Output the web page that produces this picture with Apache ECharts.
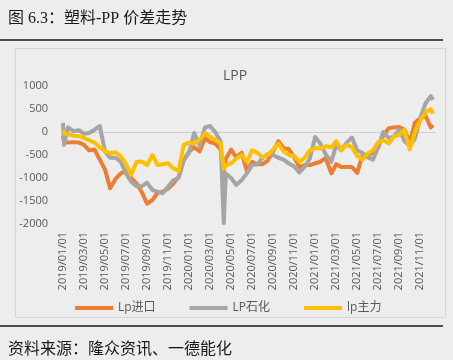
<!DOCTYPE html>
<html>
<head>
<meta charset="utf-8">
<script src="https://cdn.jsdelivr.net/npm/echarts@6/dist/echarts.min.js"></script>
<style>
html,body{margin:0;padding:0;background:#eeeded;}
#c{width:453px;height:360px;}
</style>
</head>
<body>
<div id="c"></div>
<script>
const dates = ['2019-01-01','2019-01-04','2019-01-16','2019-02-01','2019-02-16','2019-03-01','2019-03-16','2019-04-01','2019-04-16','2019-05-01','2019-05-16','2019-06-01','2019-06-16','2019-07-01','2019-07-16','2019-08-01','2019-08-16','2019-09-01','2019-09-16','2019-10-01','2019-10-16','2019-11-01','2019-11-16','2019-12-01','2019-12-16','2020-01-01','2020-01-16','2020-02-01','2020-02-16','2020-03-01','2020-03-16','2020-04-01','2020-04-10','2020-04-16','2020-05-01','2020-05-16','2020-06-01','2020-06-16','2020-07-01','2020-07-16','2020-08-01','2020-08-16','2020-09-01','2020-09-16','2020-10-01','2020-10-16','2020-11-01','2020-11-16','2020-12-01','2020-12-16','2021-01-01','2021-01-16','2021-02-01','2021-02-16','2021-03-01','2021-03-16','2021-04-01','2021-04-16','2021-05-01','2021-05-16','2021-06-01','2021-06-16','2021-07-01','2021-07-16','2021-08-01','2021-08-16','2021-09-01','2021-09-16','2021-10-01','2021-10-16','2021-11-01','2021-11-16','2021-12-01','2021-12-08'];
const lpImport = [-80,-200,-230,-220,-230,-280,-400,-380,-600,-820,-1220,-1020,-900,-850,-1000,-1120,-1300,-1560,-1480,-1320,-1300,-1230,-1120,-980,-620,-430,-330,-420,-130,-220,-250,-380,-850,-580,-380,-550,-450,-850,-650,-700,-700,-620,-420,-200,-350,-370,-550,-760,-720,-720,-680,-650,-560,-900,-700,-760,-760,-760,-890,-520,-500,-450,-330,-70,80,100,110,50,-240,200,300,350,100,150];
const lpPetro = [200,-280,100,20,40,-40,-20,50,130,-420,-560,-560,-650,-900,-1080,-1180,-1180,-1100,-1260,-1300,-1330,-1190,-1050,-1000,-600,-450,-20,-300,100,130,0,-200,-1980,-900,-1000,-1150,-1050,-900,-720,-700,-560,-480,-500,-560,-600,-680,-750,-880,-760,-580,-110,-250,-480,-650,-280,-400,-230,-120,-400,-450,-550,-600,-330,0,-130,-100,50,-200,-300,-150,300,620,780,700];
const lpMain = [30,-30,-50,-80,-90,-130,-180,-230,-330,-420,-460,-440,-530,-700,-930,-650,-640,-720,-500,-720,-700,-680,-790,-850,-280,-230,-250,-170,-30,-100,-170,-250,-800,-720,-680,-580,-500,-650,-400,-450,-550,-500,-380,-250,-420,-500,-520,-650,-560,-400,-350,-360,-310,-330,-200,-390,-280,-330,-520,-600,-470,-400,-220,-180,-250,-100,-60,50,-380,0,250,420,500,400];
const seriesNames = ['Lp进口','LP石化','lp主力'];
const yTicks = {min:-2000, max:1000, step:500};

function monthIdx(d){
  const p = d.split('-').map(Number);
  const dim = new Date(p[0], p[1], 0).getDate();
  return (p[0]-2019)*12 + (p[1]-1) + (p[2]-1)/dim;
}
function pairs(vals){ return dates.map((d,i)=>[monthIdx(d), vals[i]]); }
function fmt(v){
  if (Math.abs(v - Math.round(v)) > 1e-6 || Math.round(v) % 2 !== 0) return '';
  const m = Math.round(v);
  const y = 2019 + Math.floor(m/12);
  const mo = m % 12 + 1;
  return y + '/' + (mo<10?'0':'') + mo + '/01';
}

const chart = echarts.init(document.getElementById('c'), null, {renderer:'canvas'});
const colors = ['#ED7D31','#A5A5A5','#FFC000'];
const lab = '#595959';
chart.setOption({
  backgroundColor:'#eeeded',
  animation:false,
  color: colors,
  title:{text:'LPP', left:230, top:64, textAlign:'center',
    textStyle:{fontSize:14, fontWeight:'normal', color:lab, fontFamily:'"Open Sans", sans-serif'}},
  grid:{left:63, right:17, top:86, bottom:136, containLabel:false},
  xAxis:{type:'value', min:0, max:35.5, interval:2,
    axisLine:{show:false}, axisTick:{show:false}, splitLine:{show:false},
    axisLabel:{rotate:90, margin:8, fontSize:11, color:lab, fontFamily:'"Open Sans", sans-serif', formatter:fmt, showMaxLabel:false}},
  yAxis:{type:'value', min:yTicks.min, max:yTicks.max, interval:yTicks.step,
    axisLine:{show:false}, axisTick:{show:false},
    splitLine:{show:true, lineStyle:{color:['rgba(0,0,0,0)','rgba(0,0,0,0)','rgba(0,0,0,0)','rgba(0,0,0,0)','#cfcfcf','rgba(0,0,0,0)','rgba(0,0,0,0)'], width:1}},
    axisLabel:{margin:15, fontSize:11, color:lab, fontFamily:'"Open Sans", sans-serif', formatter:(v)=>String(v)}},
  legend:{left:70, top:297, itemWidth:38, itemHeight:4, itemGap:34, icon:'rect',
    textStyle:{fontSize:12, color:lab, fontFamily:'"Open Sans","Noto Sans CJK SC", sans-serif'},
    data:seriesNames},
  series:[lpImport, lpPetro, lpMain].map((v,i)=>({
    name:seriesNames[i], type:'line', data:pairs(v), showSymbol:false, symbol:'none',
    lineStyle:{width:4, color:colors[i], join:'round'}, z:2+i
  })),
  graphic:[
    {type:'rect', z:-1, shape:{x:15.5, y:48.5, width:430, height:269}, style:{fill:'#eeeded', stroke:'#d6d6d6', lineWidth:1}},
    {type:'text', left:8, top:11, style:{text:'图 6.3：塑料-PP 价差走势', fontSize:16, fill:'#1a1a1a', fontFamily:'"Liberation Serif","Noto Sans CJK SC", serif'}},
    {type:'line', shape:{x1:0, y1:40, x2:443, y2:40}, style:{stroke:'#1a1a1a', lineWidth:1.5}},
    {type:'line', shape:{x1:0, y1:326, x2:443, y2:326}, style:{stroke:'#1a1a1a', lineWidth:1.5}},
    {type:'text', left:8, top:340, style:{text:'资料来源：隆众资讯、一德能化', fontSize:16, fill:'#1a1a1a', fontFamily:'"Noto Sans CJK SC", sans-serif'}}
  ]
});
</script>
</body>
</html>
